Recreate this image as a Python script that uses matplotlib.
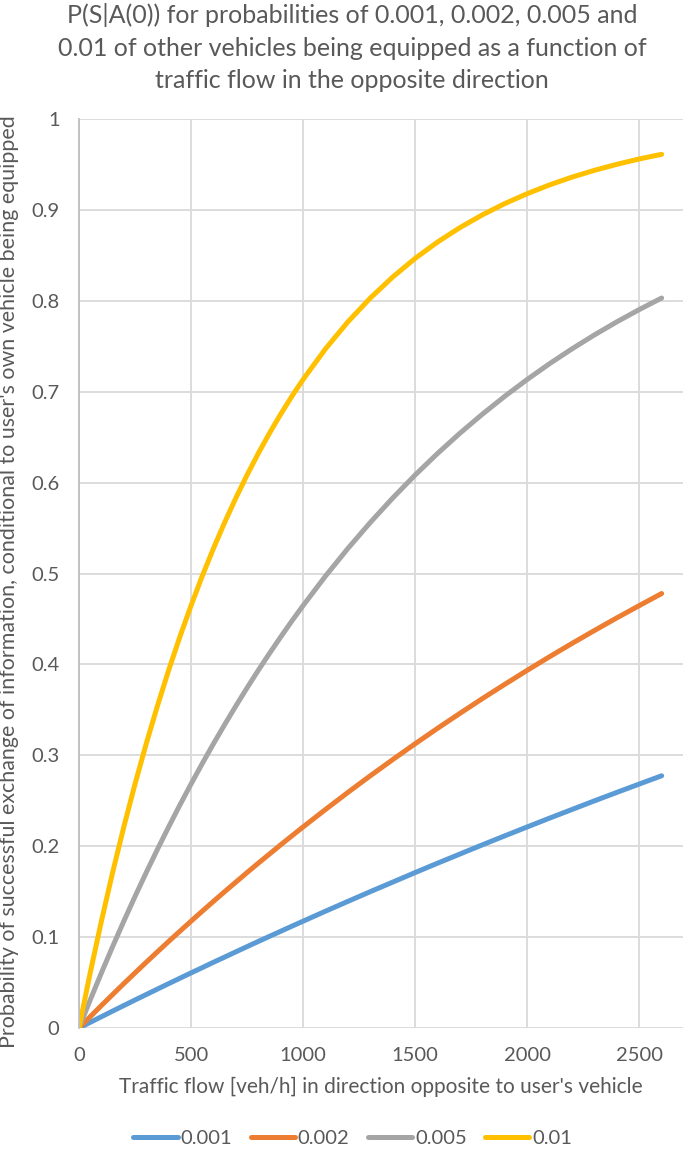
import matplotlib
matplotlib.use("Agg")
import matplotlib.pyplot as plt

# traffic flow (veh/h) and P(S|A(0))
flow = [0, 50, 100, 150, 200, 250, 300, 350, 400, 450, 500, 550, 600, 650, 700,
        750, 800, 850, 900, 950, 1000, 1100, 1200, 1300, 1400, 1500, 1600, 1700,
        1800, 1900, 2000, 2100, 2200, 2300, 2400, 2500, 2600]

p_001 = [0, 0.0062, 0.0124, 0.0186, 0.0247, 0.0308, 0.0368, 0.0428, 0.0488, 0.0547,
         0.0606, 0.0664, 0.0723, 0.0780, 0.0838, 0.0895, 0.0952, 0.1008, 0.1064,
         0.1120, 0.1175, 0.1285, 0.1393, 0.1500, 0.1605, 0.1710, 0.1813, 0.1914,
         0.2015, 0.2114, 0.2212, 0.2309, 0.2404, 0.2499, 0.2592, 0.2684, 0.2775]
p_002 = [0, 0.0124, 0.0247, 0.0368, 0.0488, 0.0606, 0.0723, 0.0838, 0.0952, 0.1064,
         0.1175, 0.1285, 0.1393, 0.1500, 0.1605, 0.1710, 0.1813, 0.1914, 0.2015,
         0.2114, 0.2212, 0.2404, 0.2592, 0.2775, 0.2953, 0.3127, 0.3297, 0.3462,
         0.3624, 0.3781, 0.3935, 0.4085, 0.4231, 0.4373, 0.4512, 0.4647, 0.4780]
p_005 = [0, 0.0308, 0.0606, 0.0895, 0.1175, 0.1447, 0.1710, 0.1965, 0.2212, 0.2452,
         0.2684, 0.2909, 0.3127, 0.3338, 0.3543, 0.3742, 0.3935, 0.4121, 0.4302,
         0.4478, 0.4647, 0.4972, 0.5276, 0.5562, 0.5831, 0.6084, 0.6321, 0.6544,
         0.6753, 0.6950, 0.7135, 0.7309, 0.7472, 0.7625, 0.7769, 0.7904, 0.8031]
p_01 = [0, 0.0606, 0.1175, 0.1710, 0.2212, 0.2684, 0.3127, 0.3543, 0.3935, 0.4302,
        0.4647, 0.4972, 0.5276, 0.5562, 0.5831, 0.6084, 0.6321, 0.6544, 0.6753,
        0.6950, 0.7135, 0.7472, 0.7769, 0.8031, 0.8262, 0.8467, 0.8647, 0.8806,
        0.8946, 0.9070, 0.9179, 0.9276, 0.9361, 0.9436, 0.9502, 0.9561, 0.9612]

series = [("0.001", p_001, "#5B9BD5"),
          ("0.002", p_002, "#ED7D31"),
          ("0.005", p_005, "#A5A5A5"),
          ("0.01", p_01, "#FFC000")]

txt = "#595959"
plt.rcParams['font.family'] = ['Lato', 'DejaVu Sans']

fig = plt.figure(figsize=(6.85, 11.57), dpi=100)
ax = fig.add_axes([0.1153, 0.1115, 0.997 - 0.1153, 0.8971 - 0.1115])

for name, vals, col in series:
    ax.plot(flow, vals, color=col, lw=3.6, solid_capstyle='round',
            solid_joinstyle='round', label=name)

ax.set_xlim(0, 2695)
ax.set_ylim(0, 1)
ax.set_xticks([0, 500, 1000, 1500, 2000, 2500])
ax.set_yticks([0, 0.1, 0.2, 0.3, 0.4, 0.5, 0.6, 0.7, 0.8, 0.9, 1])
ax.set_yticklabels(["0", "0.1", "0.2", "0.3", "0.4", "0.5", "0.6", "0.7", "0.8", "0.9", "1"])
ax.grid(True, color="#D9D9D9", lw=1.3)
ax.set_axisbelow(True)
for s in ["top", "right", "bottom"]:
    ax.spines[s].set_visible(False)
ax.spines["left"].set_color("#BFBFBF")
ax.spines["left"].set_linewidth(1.3)
ax.tick_params(length=0, labelsize=14.5, colors=txt)
ax.tick_params(axis='y', pad=14)
ax.tick_params(axis='x', pad=14)

ax.set_xlabel("Traffic flow [veh/h] in direction opposite to user's vehicle",
              fontsize=15, color=txt, labelpad=9)
fig.text(0.013, 0.4974,
         "Probability of successful exchange of information, conditional to user's own vehicle being equipped",
         rotation=90, ha='center', va='center', fontsize=15.4, color=txt)

fig.suptitle("P(S|A(0)) for probabilities of 0.001, 0.002, 0.005 and\n"
             "0.01 of other vehicles being equipped as a function of\n"
             "traffic flow in the opposite direction",
             x=0.514, y=0.997, fontsize=18, color=txt, linespacing=1.5)

fig.legend(loc='center', bbox_to_anchor=(0.515, 0.0164), ncol=4, frameon=False,
           fontsize=14.5, labelcolor=txt, handlelength=2.2, handletextpad=0.15,
           columnspacing=0.9)

fig.savefig("out.png", dpi=100)
